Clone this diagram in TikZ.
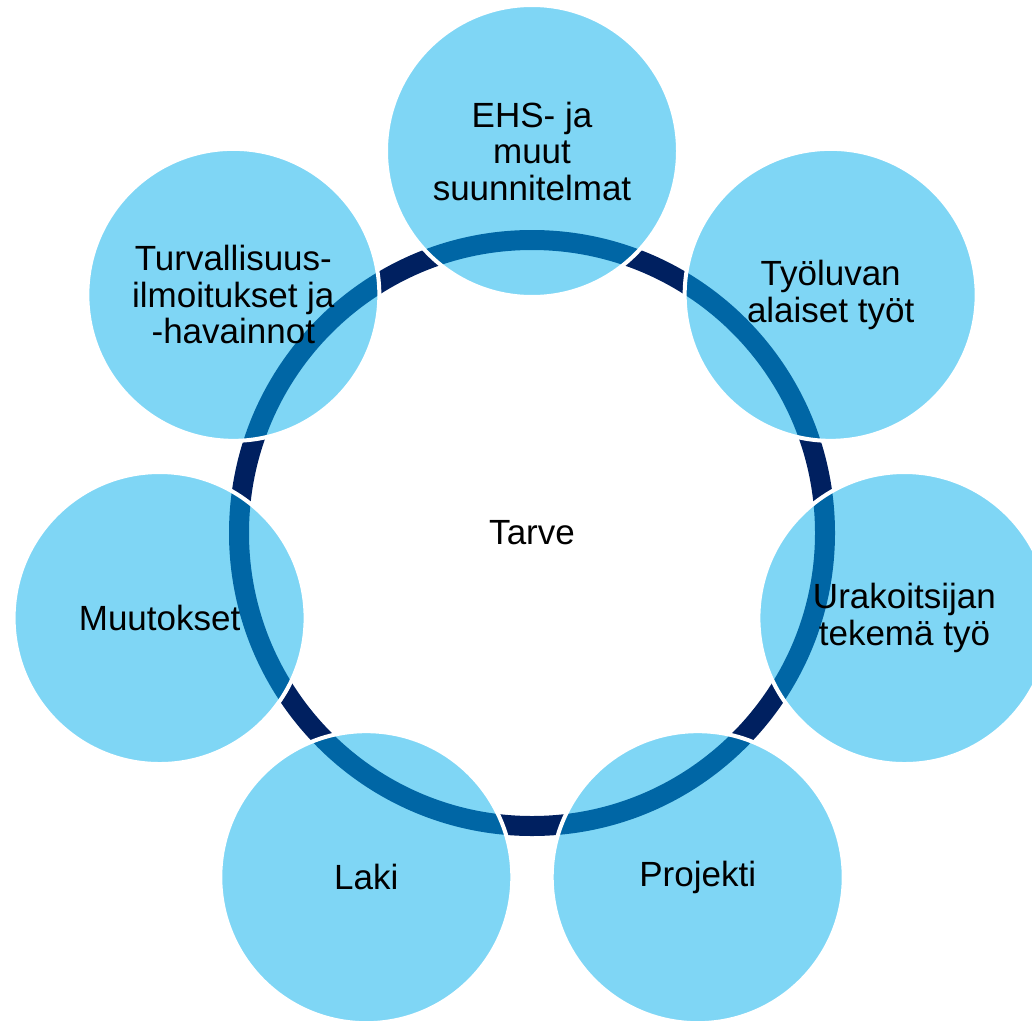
\documentclass[tikz,border=0pt]{standalone}
\usepackage{fontspec}
\setmainfont{Liberation Sans}

\definecolor{ringnavy}{RGB}{0,32,96}
\definecolor{bubbleblue}{RGB}{0,173,235}

\tikzset{
  bubble/.style={circle,minimum size=292pt,inner sep=0pt,
    fill=bubbleblue,fill opacity=0.5,text opacity=1,
    draw=white,line width=4pt,align=center,
    font=\fontsize{35}{36.5}\selectfont},
}

\def\orbit{382pt}

\begin{document}
\begin{tikzpicture}[x=1pt,y=1pt]
    \useasboundingbox (0,0) rectangle (1032,-1022);

    \coordinate (hub) at (532,-533);
    \draw[ringnavy,line width=20pt] (hub) circle (293pt);

    \node[bubble] (ehs)      at ([shift={(90:\orbit)}]hub)      {EHS- ja\\muut\\suunnitelmat};
    \node[bubble] (luvat)    at ([shift={(38.57:\orbit)}]hub)   {Työluvan\\alaiset työt};
    \node[bubble] (urakka)   at ([shift={(-12.86:\orbit)}]hub)  {Urakoitsijan\\tekemä työ};
    \node[bubble] (projekti) at ([shift={(-64.29:\orbit)}]hub)  {Projekti};
    \node[bubble] (laki)     at ([shift={(-115.71:\orbit)}]hub) {Laki};
    \node[bubble] (muutos)   at ([shift={(-167.14:\orbit)}]hub) {Muutokset};
    \node[bubble] (havainto) at ([shift={(141.43:\orbit)}]hub)  {Turvallisuus-\\ilmoitukset ja\\-havainnot};

    \node[font=\fontsize{35}{36.5}\selectfont] (tarve) at (hub) {Tarve};

\end{tikzpicture}
\end{document}
